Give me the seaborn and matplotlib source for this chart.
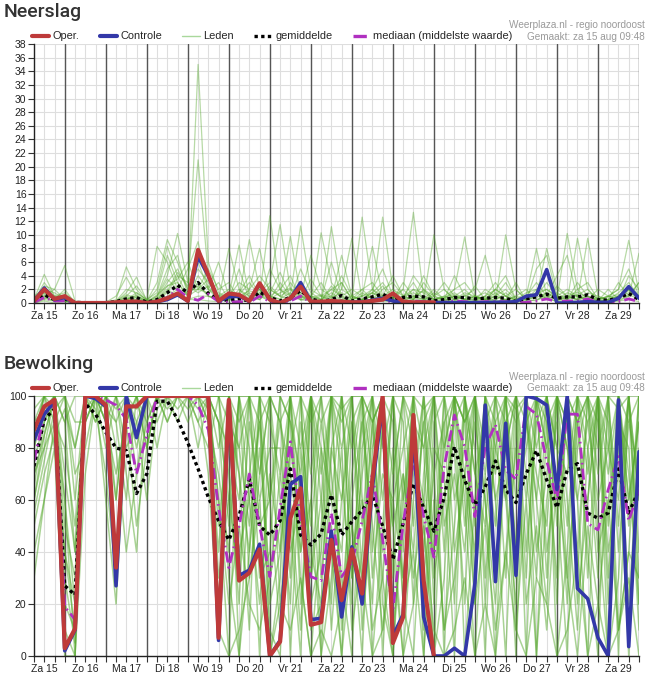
import numpy as np
import pandas as pd
import matplotlib
matplotlib.use("Agg")
import matplotlib.pyplot as plt
import seaborn as sns
from matplotlib.lines import Line2D

# ---------------- data ----------------
day_labels = ["Za 15", "Zo 16", "Ma 17", "Di 18", "Wo 19", "Do 20", "Vr 21", "Za 22",
              "Zo 23", "Ma 24", "Di 25", "Wo 26", "Do 27", "Vr 28", "Za 29"]

# Neerslag (mm), 6-hourly steps from Za 15 06:00
precip_oper = [0.3, 2.0, 0.6, 1.0, 0, 0, 0, 0, 0.1, 0.2, 0.2, 0, 0.2, 0.7, 1.4, 0.3,
               7.8, 4.1, 0.3, 1.4, 1.2, 0.3, 2.9, 0.5, 0, 0.7, 2.4, 0.2, 0.2, 0.3, 0.2, 0.1,
               0.1, 0.3, 0.5, 1.4, 0.2, 0.1, 0.1, 0.1]
precip_ctrl = [0.3, 2.2, 0.5, 0.8, 0, 0, 0, 0, 0, 0.1, 0.1, 0, 0.2, 0.5, 1.2, 0.3,
               6.8, 4.0, 0.3, 0.9, 1.0, 0.3, 2.8, 0.5, 0, 0.6, 3.0, 0.2, 0.1, 0.1, 0.1, 0.1,
               0.1, 0.4, 0.7, 0.3, 0.05, 0.05, 0.05, 0.05, 0.05, 0.05, 0.05, 0.05, 0.05, 0.1, 0.1, 0.2,
               1.0, 1.2, 4.9, 0, 0, 0.1, 0.2, 0.1, 0.1, 0.7, 2.4, 0.7]
precip_mean = [0.3, 1.2, 0.5, 0.6, 0.1, 0.05, 0.05, 0.05, 0.2, 0.6, 0.8, 0.1, 0.5, 1.5, 2.6, 1.5,
               3.0, 1.4, 0.5, 0.4, 0.6, 0.3, 1.6, 0.8, 0.3, 0.8, 1.8, 0.6, 0.2, 0.5, 1.1, 0.3,
               0.6, 0.9, 1.3, 0.5, 0.8, 1.0, 0.9, 0.3, 0.5, 0.8, 0.8, 0.6, 0.7, 0.8, 0.7, 0.2,
               0.6, 0.9, 1.3, 0.7, 0.9, 0.9, 1.2, 0.5, 0.4, 0.7, 1.4, 0.5]
precip_median = [0.1, 0.8, 0.3, 0.3, 0, 0, 0, 0, 0, 0.2, 0.3, 0, 0.2, 0.8, 2.0, 0.8,
                 0.4, 1.3, 0.2, 0.1, 0.2, 0.1, 1.0, 0.2, 0.1, 0.3, 1.0, 0.1, 0, 0.1, 0.3, 0.1,
                 0.2, 0.3, 0.5, 0.1, 0.2, 0.3, 0.2, 0.1, 0.1, 0.3, 0.2, 0.1, 0.2, 0.2, 0.2, 0,
                 0.1, 0.3, 0.6, 0.2, 0.3, 0.3, 0.6, 0.1, 0.1, 0.2, 0.6, 0.2]
precip_members = [
    [0.5, 4.2, 1.0, 0.8, 0, 0, 0, 0, 0.2, 1.5, 3.8, 0.3, 2.0, 8.3, 4.0, 1.0, 35, 6.0, 1.5, 0.8,
     1.2, 3.0, 1.0, 12.8, 2.0, 0.5, 3.0, 1.0, 0.5, 2.0, 1.0, 0.3, 0.5, 1.5, 3.0, 0.8, 0.5, 2.0, 1.5, 0.5,
     0.3, 1.0, 0.5, 0.2, 1.0, 2.0, 1.0, 0.3, 0.5, 1.5, 2.0, 1.0, 0.5, 1.0, 0.3, 0.2, 0.5, 1.5, 3.0, 1.0],
    [0.2, 2.5, 2.0, 5.5, 0.3, 0, 0, 0, 0.5, 5.3, 2.0, 0.2, 1.0, 4.0, 10.2, 3.0, 21, 4.0, 0.5, 8.0,
     2.0, 0.5, 1.5, 3.0, 11.5, 2.0, 0.5, 0.3, 10.3, 3.0, 1.0, 0.5, 12.6, 2.0, 0.5, 0.3, 1.0, 3.0, 0.5, 10,
     2.0, 0.5, 0.3, 1.0, 0.5, 0.3, 10, 2.0, 0.5, 0.3, 1.5, 0.5, 0.3, 9.5, 2.0, 0.5, 1.0, 0.5, 2.0, 0.5],
    [0.0, 1.5, 0.5, 2.0, 0, 0, 0, 0, 0.3, 2.0, 1.5, 0.5, 8.3, 6.0, 2.0, 5.0, 9.0, 2.0, 6.0, 1.0,
     8.5, 1.0, 0.5, 2.0, 1.0, 9.8, 1.0, 0.5, 0.3, 11.2, 2.0, 1.0, 0.5, 1.0, 12.6, 2.0, 1.0, 0.5, 3.0, 1.0,
     0.5, 2.0, 9.7, 1.0, 0.5, 1.0, 3.0, 0.5, 1.0, 8.0, 1.0, 0.5, 10.2, 2.0, 0.5, 0.3, 1.0, 2.0, 9.2, 1.5],
    [0.3, 3.0, 1.0, 1.5, 0.2, 0, 0, 0.1, 1.0, 3.8, 1.0, 0.3, 3.0, 9.3, 6.0, 2.0, 5.0, 3.0, 1.0, 2.0,
     1.0, 9.3, 2.0, 1.0, 2.0, 1.0, 11.3, 2.0, 1.0, 0.5, 3.0, 0.5, 1.0, 8.3, 1.0, 0.5, 2.0, 13.3, 1.0, 0.5,
     1.0, 0.5, 1.0, 2.0, 7.0, 1.0, 0.5, 0.3, 0.5, 1.0, 8.0, 2.0, 1.0, 0.5, 9.5, 1.0, 0.5, 0.3, 1.0, 7.3],
    [1.0, 2.0, 0.5, 0.3, 0, 0, 0, 0, 0, 1.0, 2.5, 0.5, 1.5, 7.0, 3.0, 1.0, 4.0, 2.0, 0.5, 1.0,
     3.0, 2.0, 8.0, 1.0, 0.5, 3.0, 1.0, 7.0, 2.0, 1.0, 4.0, 1.0, 2.0, 3.0, 1.0, 4.0, 1.0, 2.0, 0.5, 1.0,
     3.0, 1.0, 2.0, 0.5, 1.0, 3.0, 1.0, 2.0, 0.5, 1.0, 3.0, 1.0, 2.0, 1.0, 0.5, 2.0, 1.0, 0.5, 4.0, 2.0],
    [0.2, 1.0, 2.0, 0.5, 0.1, 0, 0, 0, 0, 0.5, 1.0, 0.2, 0.5, 3.0, 5.0, 2.0, 2.0, 5.0, 2.0, 3.0,
     0.5, 2.0, 4.0, 2.0, 1.0, 0.5, 5.0, 1.5, 0.5, 6.0, 1.0, 2.0, 1.0, 2.0, 5.0, 1.0, 0.5, 4.0, 2.0, 0.5,
     1.0, 2.0, 3.0, 1.0, 0.5, 2.0, 4.0, 0.5, 1.0, 3.0, 1.0, 1.5, 0.5, 2.0, 3.0, 0.5, 1.0, 2.0, 5.0, 1.0],
    [0.0, 0.5, 0.3, 1.0, 0, 0, 0, 0, 0, 0.3, 0.5, 0, 0.5, 2.0, 1.0, 0.5, 1.0, 1.0, 0.3, 0.5,
     1.0, 0.5, 2.0, 0.5, 0.3, 1.0, 2.0, 0.3, 0.5, 1.0, 0.5, 0.3, 0.5, 1.5, 0.5, 1.0, 0.3, 1.0, 0.5, 0.3,
     0.5, 1.0, 0.5, 0.5, 1.0, 0.3, 0.5, 1.0, 0.5, 2.0, 0.5, 0.3, 1.0, 0.5, 1.0, 0.3, 0.5, 1.0, 2.0, 0.5],
    [0.5, 1.0, 0.2, 0.5, 0, 0, 0, 0, 0.1, 0.8, 0.3, 0.1, 1.0, 5.0, 7.0, 1.0, 3.0, 1.0, 0.5, 0.3,
     2.0, 1.0, 0.5, 5.0, 2.0, 4.0, 0.5, 1.0, 3.0, 0.5, 7.0, 1.0, 0.3, 2.0, 1.0, 0.5, 3.0, 1.0, 0.5, 2.0,
     0.5, 4.0, 1.0, 0.3, 2.0, 1.0, 0.5, 3.0, 0.3, 5.0, 7.0, 1.0, 0.5, 3.0, 1.0, 0.3, 0.5, 3.0, 1.0, 3.0],
    [0.3, 2.0, 1.5, 0.5, 0, 0, 0, 0, 0, 0.5, 1.5, 0.5, 0.3, 2.5, 3.5, 6.0, 2.0, 1.5, 3.0, 0.5,
     5.0, 0.5, 1.0, 1.5, 4.5, 1.0, 0.5, 3.5, 1.0, 0.3, 2.0, 9.5, 0.5, 1.0, 0.3, 1.0, 2.0, 0.5, 4.0, 1.0,
     0.3, 1.0, 0.5, 2.5, 0.5, 1.5, 0.3, 1.0, 2.0, 0.5, 1.0, 4.0, 7.0, 0.5, 1.0, 0.3, 2.0, 0.5, 1.0, 3.0],
    [0.0, 0.3, 0.0, 0.2, 0, 0, 0, 0, 0, 0.2, 0.3, 0, 0.2, 1.0, 2.0, 0.5, 0.5, 0.3, 0.2, 0.5,
     0.3, 0.2, 1.0, 0.3, 0.2, 0.5, 1.0, 0.2, 0.1, 0.3, 0.5, 0.2, 0.3, 0.5, 0.2, 0.3, 0.2, 0.5, 0.3, 0.1,
     0.3, 0.5, 0.2, 0.3, 0.5, 0.2, 0.3, 0.1, 0.2, 0.5, 0.8, 0.2, 0.3, 0.5, 0.4, 0.2, 0.1, 0.3, 0.5, 0.2],
    [0.5, 1.5, 0.5, 0.8, 0, 0, 0, 0, 0.2, 1.0, 0.5, 0.2, 0.5, 1.5, 4.0, 3.0, 6.0, 2.0, 1.0, 0.5,
     1.5, 4.0, 1.0, 0.5, 3.0, 1.0, 2.0, 0.5, 1.0, 2.0, 3.0, 0.5, 2.0, 0.5, 2.0, 3.0, 1.0, 0.5, 2.0, 1.0,
     2.0, 0.5, 1.5, 1.0, 0.5, 2.0, 1.0, 0.5, 1.5, 2.0, 0.5, 2.5, 1.0, 0.5, 1.5, 1.0, 0.3, 1.0, 2.0, 0.5],
    [0.2, 0.8, 0.3, 0.3, 0, 0, 0, 0, 0, 0.5, 0.8, 0.1, 0.8, 3.5, 2.0, 1.5, 2.5, 1.0, 0.8, 1.5,
     0.5, 1.5, 0.5, 2.5, 1.0, 2.0, 0.8, 1.0, 0.5, 1.5, 0.5, 1.0, 0.5, 1.0, 2.5, 0.5, 1.0, 1.5, 0.8, 0.5,
     0.8, 1.5, 0.5, 1.0, 0.3, 1.0, 2.0, 0.5, 0.8, 1.5, 1.0, 0.5, 1.5, 1.0, 0.5, 0.8, 0.5, 1.0, 1.5, 0.8],
    [0.5, 1.2, 0.8, 1.2, 0, 0, 0, 0, 0.3, 1.2, 0.8, 0.2, 1.2, 2.5, 3.0, 1.0, 2.0, 3.5, 1.2, 0.8,
     1.0, 1.8, 1.2, 0.6, 1.5, 2.2, 1.0, 0.8, 1.2, 0.8, 1.5, 0.6, 1.0, 1.5, 0.8, 1.2, 0.5, 1.0, 1.8, 0.6,
     0.8, 1.2, 0.6, 0.9, 1.5, 0.6, 1.0, 0.4, 0.8, 1.2, 2.0, 0.8, 1.0, 1.6, 0.8, 0.6, 0.9, 1.2, 1.8, 1.0],
    [0.1, 0.6, 1.0, 0.2, 0, 0, 0, 0, 0.1, 0.4, 1.2, 0.3, 0.3, 1.8, 4.5, 2.5, 1.5, 2.5, 0.5, 1.0,
     0.8, 0.4, 2.0, 1.0, 0.6, 1.5, 0.4, 0.8, 0.3, 2.5, 0.8, 0.3, 1.5, 0.6, 1.0, 2.0, 0.4, 0.8, 0.3, 1.5,
     0.6, 0.3, 1.2, 0.5, 0.8, 0.4, 1.5, 0.3, 0.5, 0.8, 1.5, 0.5, 0.6, 1.2, 2.0, 0.4, 0.3, 0.8, 1.2, 0.6],
]

# Bewolking (%), 6-hourly steps from Za 15 06:00
cloud_oper = [87, 96, 98.5, 3, 10.5, 100, 100, 96.5, 34, 96, 96, 100, 100, 100, 100, 100,
              100, 100, 7, 98.5, 29, 32, 41, 0, 5.5, 53, 64.5, 12, 13, 44.6, 21.5, 41,
              24, 68, 100, 5, 15, 92.7, 29, 0]
cloud_ctrl = [83, 93, 98, 2, 10, 100, 99, 96, 27, 100, 84, 100, 100, 100, 100, 100,
              100, 100, 6, 97, 31, 33, 43, 0, 6, 66, 69, 14, 14.5, 48, 15, 42,
              20, 65, 97, 7.5, 16, 88, 15, 0, 0, 3, 0, 28, 96.5, 28.6, 89.5, 31,
              100, 99, 96.5, 64, 100, 26, 22, 7, 0, 98.5, 3.6, 78.6]
cloud_mean = [73, 91, 95, 27, 23.5, 97, 93, 86, 80, 79, 62.5, 70, 98, 98, 91, 82,
              72, 61, 52, 44.6, 54, 68, 50, 46.5, 52, 72, 46.5, 42.7, 47, 62, 46.5, 51.7,
              56, 62, 50, 37, 51, 66.4, 57, 48, 61, 80.5, 67.7, 58, 65, 75, 64, 59,
              70, 79, 67.7, 57, 71.5, 74, 55, 53, 55, 72, 55, 64]
cloud_median = [75, 93, 97, 19, 14, 100, 100, 98.5, 96.5, 91, 70, 85, 100, 100, 100, 100,
                96.5, 87, 57, 34, 50, 70, 50, 30.5, 57, 82.4, 52, 30.5, 29, 55, 30.5, 36,
                52, 70, 44.6, 17.7, 51, 75, 53.6, 38, 72.8, 92.7, 80.5, 53.6, 80.5, 89, 71.5, 68,
                96, 93, 75, 60, 93, 93, 51, 48.5, 64, 76.7, 52, 64]
cloud_members = [
    [80, 95, 100, 30, 5, 100, 100, 90, 60, 100, 95, 100, 100, 100, 100, 100, 100, 95, 20, 100,
     40, 60, 90, 10, 0, 80, 100, 30, 60, 100, 20, 70, 100, 40, 90, 10, 50, 100, 80, 0,
     30, 100, 90, 20, 100, 70, 100, 40, 90, 100, 30, 100, 60, 10, 80, 100, 20, 100, 60, 90],
    [70, 85, 100, 60, 20, 95, 100, 100, 80, 40, 70, 100, 100, 90, 100, 100, 95, 100, 60, 0,
     100, 30, 70, 100, 20, 50, 0, 100, 80, 10, 60, 100, 30, 90, 100, 50, 0, 60, 100, 40,
     100, 80, 20, 100, 60, 0, 90, 100, 70, 30, 100, 50, 100, 90, 40, 0, 100, 50, 100, 30],
    [90, 100, 95, 100, 60, 100, 90, 100, 100, 100, 90, 60, 95, 100, 100, 95, 100, 100, 100, 70,
     20, 100, 50, 60, 100, 90, 30, 0, 50, 100, 70, 20, 100, 0, 50, 100, 90, 20, 100, 70,
     10, 50, 100, 80, 0, 100, 60, 20, 100, 80, 100, 0, 40, 100, 70, 100, 0, 30, 100, 60],
    [60, 80, 100, 10, 0, 100, 95, 70, 30, 100, 100, 80, 100, 100, 90, 100, 100, 90, 40, 100,
     70, 10, 100, 20, 40, 100, 60, 100, 0, 80, 100, 30, 70, 100, 20, 0, 60, 100, 10, 90,
     100, 40, 70, 100, 30, 80, 100, 10, 60, 0, 90, 100, 80, 40, 100, 70, 100, 10, 40, 100],
    [100, 100, 90, 80, 50, 90, 100, 100, 100, 70, 40, 100, 100, 100, 100, 100, 90, 100, 100, 50,
     100, 80, 0, 100, 60, 20, 100, 70, 100, 40, 0, 90, 50, 100, 80, 100, 20, 0, 70, 100,
     80, 100, 0, 60, 100, 90, 30, 100, 0, 100, 80, 30, 100, 60, 0, 100, 70, 100, 20, 80],
    [50, 70, 85, 95, 80, 100, 100, 90, 70, 90, 100, 100, 90, 100, 100, 100, 100, 100, 80, 100,
     90, 100, 30, 40, 100, 0, 80, 40, 20, 100, 90, 100, 10, 60, 100, 30, 100, 80, 50, 0,
     90, 20, 100, 50, 100, 60, 0, 90, 30, 100, 100, 80, 20, 90, 100, 40, 60, 80, 0, 100],
    [75, 90, 100, 50, 30, 100, 100, 95, 90, 100, 80, 100, 100, 100, 100, 100, 100, 100, 90, 80,
     60, 100, 100, 0, 30, 100, 40, 60, 100, 70, 30, 0, 80, 100, 60, 100, 40, 100, 0, 80,
     70, 0, 100, 30, 90, 100, 70, 0, 100, 60, 20, 100, 90, 30, 100, 50, 0, 100, 70, 20],
    [85, 100, 100, 70, 40, 100, 90, 100, 100, 90, 100, 80, 100, 100, 100, 90, 100, 100, 100, 100,
     0, 70, 100, 90, 70, 100, 100, 20, 40, 100, 10, 60, 90, 100, 0, 70, 100, 50, 90, 100,
     40, 100, 60, 0, 70, 30, 100, 100, 100, 0, 60, 90, 50, 100, 30, 100, 90, 0, 100, 60],
    [30, 60, 90, 100, 90, 90, 100, 100, 100, 100, 100, 100, 80, 100, 100, 100, 100, 90, 70, 40,
     100, 100, 70, 100, 90, 60, 10, 100, 70, 100, 100, 50, 0, 80, 100, 90, 30, 70, 100, 20,
     100, 60, 80, 100, 20, 90, 100, 60, 80, 100, 90, 20, 100, 70, 60, 100, 30, 90, 80, 10],
    [95, 100, 80, 40, 10, 100, 100, 100, 95, 100, 100, 100, 100, 90, 100, 100, 90, 80, 100, 100,
     80, 50, 90, 60, 10, 100, 80, 100, 60, 20, 100, 80, 100, 30, 70, 60, 80, 100, 40, 100,
     0, 100, 50, 90, 60, 20, 80, 100, 40, 90, 100, 60, 0, 100, 80, 30, 100, 40, 90, 70],
    [65, 90, 100, 100, 70, 80, 100, 100, 100, 80, 90, 100, 100, 100, 95, 100, 80, 100, 90, 60,
     30, 90, 60, 80, 80, 30, 90, 50, 90, 60, 40, 100, 60, 20, 90, 50, 70, 30, 60, 100,
     50, 70, 40, 100, 80, 50, 100, 40, 90, 70, 50, 100, 80, 60, 90, 100, 50, 100, 60, 90],
    [55, 75, 95, 20, 10, 90, 100, 100, 40, 100, 100, 90, 100, 100, 100, 100, 100, 100, 60, 20,
     50, 20, 10, 30, 70, 40, 60, 10, 20, 50, 0, 40, 60, 10, 30, 80, 20, 40, 0, 60,
     10, 30, 70, 20, 50, 10, 40, 80, 20, 50, 10, 70, 30, 0, 50, 20, 60, 10, 40, 30],
    [80, 100, 100, 90, 100, 100, 100, 80, 100, 100, 100, 100, 100, 100, 100, 100, 100, 100, 100, 100,
     100, 100, 100, 100, 90, 100, 100, 90, 100, 100, 95, 100, 100, 90, 100, 100, 100, 100, 95, 100,
     100, 100, 90, 100, 100, 100, 100, 95, 100, 100, 100, 100, 90, 100, 100, 100, 100, 95, 100, 100],
    [40, 60, 80, 0, 0, 70, 100, 60, 20, 90, 50, 80, 100, 95, 100, 100, 100, 70, 10, 0,
     10, 30, 60, 0, 20, 10, 30, 0, 10, 0, 20, 50, 30, 0, 10, 40, 0, 20, 50, 10,
     0, 10, 30, 0, 20, 0, 40, 10, 0, 30, 20, 0, 10, 40, 0, 20, 0, 10, 30, 0],
    [60, 85, 100, 90, 40, 100, 100, 100, 90, 60, 100, 100, 100, 100, 100, 100, 100, 100, 50, 90,
     70, 40, 100, 60, 90, 70, 40, 100, 30, 80, 60, 90, 100, 70, 40, 100, 60, 90, 30, 70,
     90, 100, 70, 40, 100, 80, 60, 100, 90, 60, 100, 80, 70, 100, 90, 60, 80, 100, 50, 100],
    [90, 95, 100, 40, 20, 100, 100, 100, 100, 100, 70, 90, 100, 100, 100, 100, 100, 100, 90, 30,
     0, 40, 80, 30, 50, 100, 20, 60, 0, 30, 80, 10, 40, 90, 30, 0, 70, 40, 90, 30,
     60, 90, 100, 70, 50, 100, 90, 30, 100, 40, 70, 100, 30, 80, 100, 90, 40, 70, 100, 20],
    [70, 80, 90, 60, 0, 100, 100, 100, 60, 100, 100, 100, 100, 100, 100, 100, 100, 100, 30, 60,
     100, 60, 20, 70, 40, 80, 50, 30, 80, 60, 100, 30, 90, 50, 10, 60, 30, 80, 60, 40,
     80, 100, 100, 70, 90, 60, 80, 100, 60, 100, 40, 70, 90, 20, 60, 100, 80, 60, 100, 40],
    [85, 100, 100, 100, 80, 100, 100, 90, 100, 100, 100, 100, 100, 100, 100, 100, 100, 100, 100, 90,
     80, 100, 90, 100, 100, 90, 70, 100, 90, 100, 80, 100, 100, 90, 100, 70, 100, 90, 80, 100,
     100, 100, 90, 100, 70, 100, 100, 90, 100, 100, 80, 100, 100, 90, 100, 80, 100, 100, 90, 100],
]

# ---------------- style ----------------
RED = "#be3a3a"
BLUE = "#3338a8"
GREEN = "#55a82c"
PURPLE = "#b030c0"
GRID = "#dedede"
DAYLINE = "#555555"

sns.set_theme(style="ticks")
plt.rcParams["font.family"] = ["Liberation Sans", "DejaVu Sans"]

fig = plt.figure(figsize=(6.47, 6.77), dpi=100)
W, H = 647.0, 677.0


def fx(px):
    return px / W


def fy(py):
    return 1 - py / H


def members_frame(members):
    rows = []
    for m, series in enumerate(members):
        for i, v in enumerate(series):
            rows.append((m, i, v))
    return pd.DataFrame(rows, columns=["member", "t", "value"])


def draw_panel(ax, members, mean, median, ctrl, oper, ymax, ystep, ylabstep, mlw, malpha):
    n = len(mean)
    ax.set_axisbelow(True)
    dfm = members_frame(members)
    sns.lineplot(data=dfm, x="t", y="value", units="member", estimator=None,
                 color=GREEN, lw=mlw, alpha=malpha, ax=ax, legend=False, sort=False)
    t = np.arange(n)
    sns.lineplot(x=t, y=mean, color="black", lw=2.4, linestyle=(0, (1, 1)), ax=ax)
    sns.lineplot(x=t, y=median, color=PURPLE, lw=2.0, linestyle=(0, (4, 1.5, 0.6, 1.5)), ax=ax)
    sns.lineplot(x=np.arange(len(ctrl)), y=ctrl, color=BLUE, lw=2.6, ax=ax)
    sns.lineplot(x=np.arange(len(oper)), y=oper, color=RED, lw=3.0, ax=ax)

    # day separators (midnight)
    for i in range(3, n, 4):
        ax.axvline(i, color=DAYLINE, lw=1.0, zorder=1.5)

    ax.set_xlim(0, n - 1)
    ax.set_ylim(0, ymax)
    ax.set_xticks(np.arange(n))
    labels = []
    for i in range(n):
        if (i - 1) % 4 == 0 and (i - 1) // 4 < len(day_labels):
            labels.append(day_labels[(i - 1) // 4])
        else:
            labels.append("")
    ax.set_xticklabels(labels)
    ax.set_yticks(np.arange(0, ymax + 0.1, ystep))
    ax.set_yticklabels([str(int(v)) if v % ylabstep == 0 else "" for v in np.arange(0, ymax + 0.1, ystep)])
    ax.grid(True, color=GRID, lw=0.8)
    ax.tick_params(axis="both", direction="out", length=4, width=0.8, color="#333333",
                   labelsize=7.5, labelcolor="#222222", pad=1.5)
    ax.set_xlabel("")
    ax.set_ylabel("")
    for s in ["top", "right"]:
        ax.spines[s].set_visible(False)
    for s in ["left", "bottom"]:
        ax.spines[s].set_color("#222222")
        ax.spines[s].set_linewidth(1.0)

    handles = [
        Line2D([], [], color=RED, lw=3.0),
        Line2D([], [], color=BLUE, lw=3.0),
        Line2D([], [], color="#a9d89c", lw=1.0),
        Line2D([], [], color="black", lw=2.4, linestyle=(0, (1, 1))),
        Line2D([], [], color=PURPLE, lw=2.4, linestyle=(0, (4, 1.5, 0.6, 1.5))),
    ]
    names = ["Oper.", "Controle", "Leden", "gemiddelde", "mediaan (middelste waarde)"]
    ax.legend(handles, names, loc="center left", bbox_to_anchor=(-0.004, 1.029),
              ncol=5, frameon=False, fontsize=7.9, handlelength=1.6, handletextpad=0.3,
              columnspacing=1.85, borderpad=0, borderaxespad=0)


# top panel: Neerslag
ax1 = fig.add_axes([fx(34), fy(303), fx(639) - fx(34), (303 - 44) / H])
draw_panel(ax1, precip_members, precip_mean, precip_median, precip_ctrl, precip_oper,
           38, 2, 2, 0.9, 0.42)

# bottom panel: Bewolking
ax2 = fig.add_axes([fx(34), fy(656), fx(639) - fx(34), (656 - 396) / H])
draw_panel(ax2, cloud_members, cloud_mean, cloud_median, cloud_ctrl, cloud_oper,
           100, 20, 20, 1.1, 0.5)

# titles and credits
for off, title in [(0, "Neerslag"), (352, "Bewolking")]:
    fig.text(fx(4), fy(12 + off), title, ha="left", va="center", fontsize=14,
             color="#333333", family=["Roboto", "DejaVu Sans"], fontweight="medium")
    fig.text(fx(645), fy(25 + off), "Weerplaza.nl - regio noordoost", ha="right",
             va="center", fontsize=7.2, color="#9a9a9a")
    fig.text(fx(645), fy(36.5 + off), "Gemaakt: za 15 aug 09:48", ha="right",
             va="center", fontsize=7.2, color="#9a9a9a")

fig.savefig("out.png", dpi=100, facecolor="white")
